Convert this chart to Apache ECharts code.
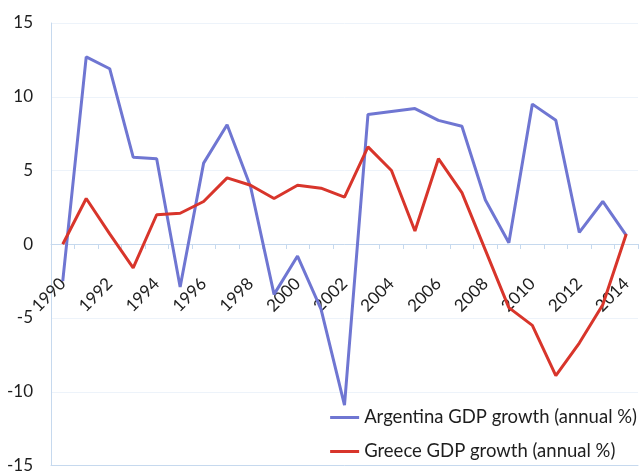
<!DOCTYPE html>
<html>
<head>
<meta charset="utf-8">
<script src="https://cdn.jsdelivr.net/npm/echarts@6/dist/echarts.min.js"></script>
<style>
  html, body { margin: 0; padding: 0; background: #ffffff; }
  #chart { width: 642px; height: 474px; }
</style>
</head>
<body>
<div id="chart"></div>
<script>
// Annual GDP growth, 1990-2014
const years = ['1990','1991','1992','1993','1994','1995','1996','1997','1998','1999',
               '2000','2001','2002','2003','2004','2005','2006','2007','2008','2009',
               '2010','2011','2012','2013','2014'];

const argentina = [-2.5, 12.7, 11.9, 5.9, 5.8, -2.9, 5.5, 8.1, 3.9, -3.4,
                   -0.8, -4.4, -10.9, 8.8, 9.0, 9.2, 8.4, 8.0, 3.0, 0.1,
                   9.5, 8.4, 0.8, 2.9, 0.6];

const greece = [0.0, 3.1, 0.7, -1.6, 2.0, 2.1, 2.9, 4.5, 4.0, 3.1,
                4.0, 3.8, 3.2, 6.6, 5.0, 0.9, 5.8, 3.5, -0.4, -4.3,
                -5.5, -8.9, -6.7, -4.1, 0.7];

const yTicks = { min: -15, max: 15, step: 5 };

const seriesNames = ['Argentina GDP growth (annual %)', 'Greece GDP growth (annual %)'];
const seriesColors = ['#6f76d2', '#d8352b'];

const axisBlue = '#c6d9ee';
const textColor = '#1e1e1e';
const fontFam = 'Lato, "Open Sans", "Liberation Sans", sans-serif';

// plot box
const gridTop = 23, gridBottom = 8, chartH = 474;
const plotH = chartH - gridTop - gridBottom;
// shift the category axis up from the bottom edge to the zero line
const zeroOffset = -plotH * (0 - yTicks.min) / (yTicks.max - yTicks.min);

const chart = echarts.init(document.getElementById('chart'), null, { renderer: 'canvas' });

chart.setOption({
  animation: false,
  backgroundColor: '#ffffff',
  grid: { left: 51, right: 4, top: gridTop, bottom: gridBottom, containLabel: false },
  legend: {
    orient: 'vertical',
    right: 0,
    bottom: 8,
    itemWidth: 29,
    itemHeight: 3,
    itemGap: 15,
    icon: 'rect',
    textStyle: { fontFamily: fontFam, fontSize: 18.5, color: textColor },
    data: seriesNames
  },
  xAxis: [
    {
      type: 'category',
      data: years,
      boundaryGap: true,
      position: 'bottom',
      offset: zeroOffset,
      axisLine: { onZero: false, lineStyle: { color: axisBlue, width: 1 } },
      axisTick: { show: true, interval: 0, length: 5, lineStyle: { color: axisBlue } },
      axisLabel: {
        interval: 1,
        rotate: 45,
        margin: 37,
        fontFamily: fontFam,
        fontSize: 17,
        color: textColor
      },
      splitLine: { show: false }
    },
    {
      // bottom frame line of the plot area
      type: 'category',
      data: years,
      position: 'bottom',
      offset: 0,
      axisLine: { onZero: false, lineStyle: { color: axisBlue, width: 1 } },
      axisTick: { show: false },
      axisLabel: { show: false },
      splitLine: { show: false }
    }
  ],
  yAxis: {
    type: 'value',
    min: yTicks.min,
    max: yTicks.max,
    interval: yTicks.step,
    axisLine: { show: true, lineStyle: { color: axisBlue } },
    axisTick: { show: false },
    axisLabel: { margin: 18, fontFamily: fontFam, fontSize: 17, color: textColor },
    splitLine: { show: true, lineStyle: { color: '#edf3fa', width: 1 } }
  },
  series: [
    {
      name: seriesNames[0],
      type: 'line',
      xAxisIndex: 0,
      data: argentina,
      symbol: 'none',
      lineStyle: { color: seriesColors[0], width: 3 },
      itemStyle: { color: seriesColors[0] }
    },
    {
      name: seriesNames[1],
      type: 'line',
      xAxisIndex: 0,
      data: greece,
      symbol: 'none',
      lineStyle: { color: seriesColors[1], width: 3 },
      itemStyle: { color: seriesColors[1] }
    }
  ]
});
</script>
</body>
</html>
